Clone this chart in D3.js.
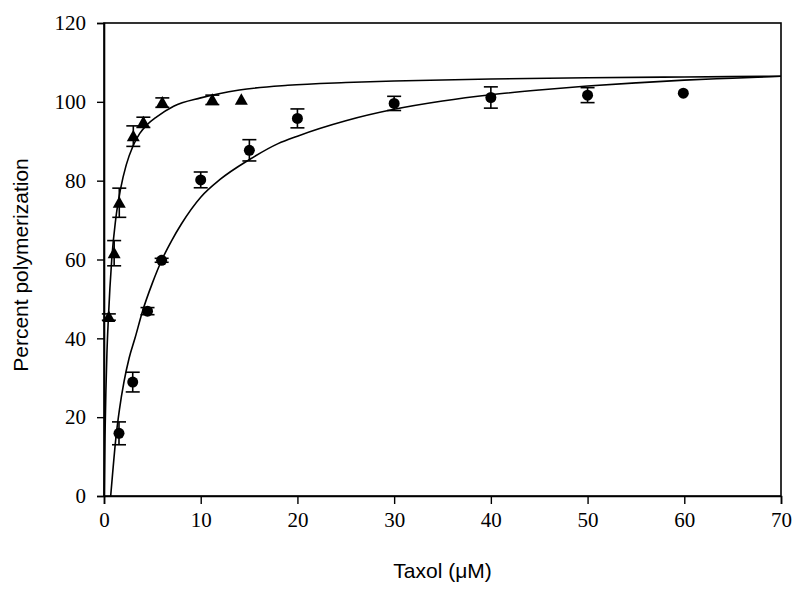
<!DOCTYPE html>
<html><head><meta charset="utf-8">
<script src="https://cdn.jsdelivr.net/npm/d3@7"></script>
<style>body{margin:0;background:#fff}svg{display:block}</style>
</head><body>
<svg id="chart" width="800" height="590"></svg>
<script>
// ---- data ----
const xTicks = [0, 10, 20, 30, 40, 50, 60, 70];
const yTicks = [0, 20, 40, 60, 80, 100, 120];

const triX   = [0.5, 1.05, 1.58, 3.03, 4.07, 6.03, 11.2, 14.2];
const triY   = [45.4, 61.6, 74.4, 91.3, 94.8, 99.8, 100.5, 100.5];
const triErr = [0.8, 3.2, 3.7, 2.6, 1.3, 1.2, 1.2, 0];

const cirX   = [1.55, 2.97, 4.5, 5.96, 10, 15.03, 20, 30, 40, 50, 59.9];
const cirY   = [15.9, 28.9, 46.9, 59.8, 80.2, 87.7, 95.8, 99.6, 101.1, 101.7, 102.2];
const cirErr = [2.9, 2.5, 0.9, 0.5, 2.0, 2.7, 2.4, 1.8, 2.7, 1.9, 0];

// fitted curves
const triCurveX = [0.02, 0.1, 0.2, 0.3, 0.45, 0.8, 1.2, 1.72, 2.3, 3, 3.7, 4.5, 5.45, 7.2, 10, 14, 19, 25, 30, 40, 50, 60, 70];
const triCurveY = [0, 15, 27, 36, 45, 60, 70, 78, 84, 88.8, 92, 94.3, 96.2, 98.9, 101, 103, 104.2, 104.9, 105.3, 105.8, 106.1, 106.3, 106.5];
const cirCurveX = [0.69, 0.9, 1.24, 1.6, 2.07, 2.6, 3.2, 4, 5, 6, 7, 8, 10, 12, 15, 18, 20, 25, 30, 35, 40, 45, 50, 55, 60, 65, 70];
const cirCurveY = [0, 6, 15, 22, 29, 35, 40, 47, 54, 60, 64.8, 69, 75.8, 80.3, 85.3, 89.4, 91.3, 95.2, 98.1, 100.2, 101.8, 103, 104, 104.8, 105.5, 106, 106.5];

// ---- layout ----
const L = 104, R = 781, T = 23, B = 496;
const svg = d3.select("#chart");
const x = d3.scaleLinear().domain([0, 70]).range([L, R]);
const y = d3.scaleLinear().domain([0, 120]).range([B, T]);

// frame
svg.append("rect").attr("x", L).attr("y", T).attr("width", R - L).attr("height", B - T)
  .attr("fill", "none").attr("stroke", "#000").attr("stroke-width", 1.6);

const serif = "'Liberation Serif','Times New Roman',serif";
const sans = "'Liberation Sans',Arial,sans-serif";

const xAxis = svg.append("g").attr("transform", `translate(0,${B})`)
  .call(d3.axisBottom(x).tickValues(xTicks).tickSize(8).tickPadding(8).tickFormat(d3.format("d")));
const yAxis = svg.append("g").attr("transform", `translate(${L},0)`)
  .call(d3.axisLeft(y).tickValues(yTicks).tickSize(7).tickPadding(11).tickFormat(d3.format("d")));
[xAxis, yAxis].forEach(g => {
  g.select(".domain").attr("stroke", "#000").attr("stroke-width", 1.6);
  g.selectAll(".tick line").attr("stroke", "#000").attr("stroke-width", 1.4);
  g.selectAll(".tick text").attr("fill", "#000").style("font-family", serif).style("font-size", "21px");
});

// curves
const line = d3.line().x(d => x(d[0])).y(d => y(d[1])).curve(d3.curveMonotoneX);
svg.append("path").datum(triCurveX.map((v, i) => [v, triCurveY[i]]))
  .attr("d", line).attr("fill", "none").attr("stroke", "#000").attr("stroke-width", 1.6);
svg.append("path").datum(cirCurveX.map((v, i) => [v, cirCurveY[i]]))
  .attr("d", line).attr("fill", "none").attr("stroke", "#000").attr("stroke-width", 1.6);

// error bars
function errBars(xs, ys, es) {
  const g = svg.append("g").attr("stroke", "#000").attr("stroke-width", 1.6);
  xs.forEach((xv, i) => {
    if (!es[i]) return;
    const cx = x(xv), y1 = y(ys[i] + es[i]), y2 = y(ys[i] - es[i]);
    g.append("line").attr("x1", cx).attr("x2", cx).attr("y1", y1).attr("y2", y2);
    g.append("line").attr("x1", cx - 7).attr("x2", cx + 7).attr("y1", y1).attr("y2", y1);
    g.append("line").attr("x1", cx - 7).attr("x2", cx + 7).attr("y1", y2).attr("y2", y2);
  });
}
errBars(triX, triY, triErr);
errBars(cirX, cirY, cirErr);

// markers
svg.append("g").selectAll("path").data(triX.map((v, i) => [v, triY[i]])).join("path")
  .attr("d", d => { const cx = x(d[0]), cy = y(d[1]);
    return `M${cx},${cy - 6.5}L${cx + 6.5},${cy + 5}L${cx - 6.5},${cy + 5}Z`; })
  .attr("fill", "#000");
svg.append("g").selectAll("circle").data(cirX.map((v, i) => [v, cirY[i]])).join("circle")
  .attr("cx", d => x(d[0])).attr("cy", d => y(d[1])).attr("r", 5.5).attr("fill", "#000");

// axis titles
svg.append("text").attr("x", (L + R) / 2).attr("y", 578).attr("text-anchor", "middle")
  .style("font-family", sans).style("font-size", "21px").attr("fill", "#000").text("Taxol (\u03BCM)");
svg.append("text").attr("transform", "translate(28,265) rotate(-90)").attr("text-anchor", "middle")
  .style("font-family", sans).style("font-size", "21px").attr("fill", "#000").text("Percent polymerization");
</script>
</body></html>
